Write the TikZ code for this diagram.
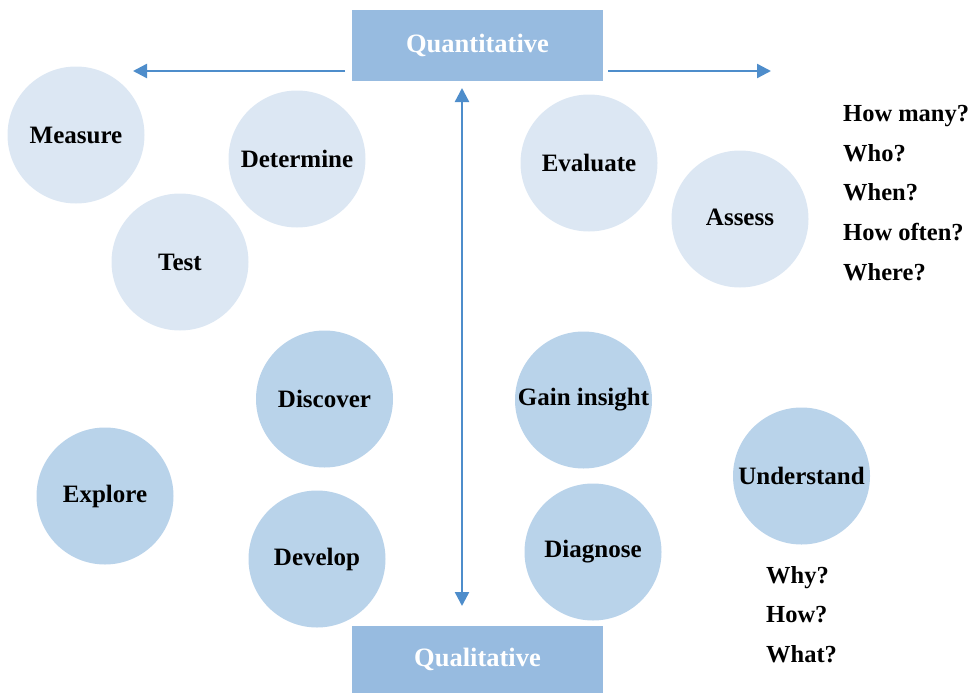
\documentclass[tikz,border=0pt]{standalone}
\usepackage{fontspec}
\setmainfont{Liberation Serif}
\usetikzlibrary{arrows.meta}
\definecolor{lightc}{HTML}{DCE7F3}
\definecolor{darkc}{HTML}{B9D3EA}
\definecolor{boxc}{HTML}{97BBE0}
\definecolor{arrc}{HTML}{4E8DCB}
\tikzset{
  circ/.style={circle, minimum size=137pt, inner sep=0pt, font=\fontsize{25}{27}\selectfont\bfseries, text=black},
  lc/.style={circ, fill=lightc},
  dc/.style={circ, fill=darkc},
  hbox/.style={fill=boxc, minimum width=251pt, inner sep=0pt, text=white, font=\fontsize{26.5}{28}\selectfont\bfseries},
  qtext/.style={anchor=base west, inner sep=0pt, font=\fontsize{24.5}{27}\selectfont\bfseries},
  arr/.style={draw=arrc, line width=2.4pt, -{Triangle[length=14pt,width=14pt]}},
  darr/.style={draw=arrc, line width=2.4pt, {Triangle[length=14pt,width=14pt]}-{Triangle[length=14pt,width=14pt]}}
}
\begin{document}
\begin{tikzpicture}[x=1pt,y=-1pt]
\useasboundingbox (0,0) rectangle (979,693);
\node[hbox, minimum height=70pt] (quant) at (477.5,45.5) {Quantitative};
\node[hbox, minimum height=67pt] (qual) at (477.5,659.5) {Qualitative};
\coordinate (lstart) at (345,71);
\coordinate (lend) at (133,71);
\coordinate (rstart) at (608,71);
\coordinate (rend) at (771,71);
\coordinate (vtop) at (462,88);
\coordinate (vbot) at (462,606);
\draw[arr] (lstart) -- (lend);
\draw[arr] (rstart) -- (rend);
\draw[darr] (vtop) -- (vbot);
\node[lc] (measure) at (76,135) {Measure};
\node[lc] (determine) at (297,159) {Determine};
\node[lc] (test) at (180,262) {Test};
\node[lc] (evaluate) at (589,163) {Evaluate};
\node[lc] (assess) at (740,219) {\raisebox{3pt}{Assess}};
\node[dc] (discover) at (324.5,399) {Discover};
\node[dc] (explore) at (105,496) {Explore};
\node[dc] (develop) at (317,559) {Develop};
\node[dc] (gain) at (583.5,400) {Gain insight};
\node[dc] (diagnose) at (593,552) {Diagnose};
\node[dc] (understand) at (801.5,476) {Understand};
\node[qtext] (q1) at (843,121) {How many?};
\node[qtext] (q2) at (843,161) {Who?};
\node[qtext] (q3) at (843,200) {When?};
\node[qtext] (q4) at (843,240) {How often?};
\node[qtext] (q5) at (843,280) {Where?};
\node[qtext] (w1) at (766,583) {Why?};
\node[qtext] (w2) at (766,622) {How?};
\node[qtext] (w3) at (766,662) {What?};
\end{tikzpicture}
\end{document}
